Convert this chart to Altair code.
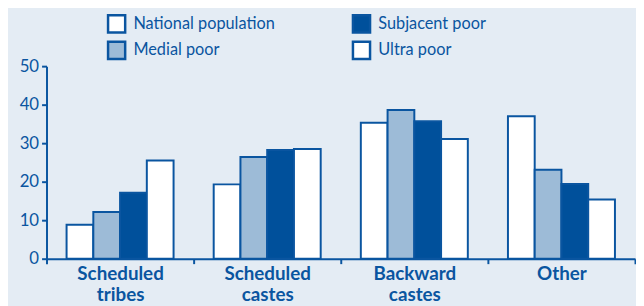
import altair as alt
import pandas as pd

categories = ["Scheduled tribes", "Scheduled castes", "Backward castes", "Other"]
series = ["National population", "Medial poor", "Subjacent poor", "Ultra poor"]
national = [8.8, 19.3, 35.3, 37.0]
medial = [12.1, 26.4, 38.6, 23.1]
subjacent = [17.1, 28.2, 35.7, 19.4]
ultra = [25.5, 28.5, 31.1, 15.4]
y_ticks = [0, 10, 20, 30, 40, 50]

rows = []
for s, vals in zip(series, [national, medial, subjacent, ultra]):
    for c, v in zip(categories, vals):
        rows.append({"category": c, "series": s, "value": v})
df = pd.DataFrame(rows)

BLUE = "#0a55a0"
BG = "#e4ecf4"
legend_order = ["National population", "Subjacent poor", "Medial poor", "Ultra poor"]
legend_fill = ["#ffffff", "#00509b", "#9dbbd7", "#ffffff"]

chart = alt.Chart(df).mark_bar(stroke=BLUE, strokeWidth=2).encode(
    x=alt.X("category:N", sort=categories, title=None,
            scale=alt.Scale(paddingInner=0, paddingOuter=0),
            axis=alt.Axis(labelAngle=0, labelExpr="split(datum.label, ' ')",
                          labelFont="Lato", labelFontSize=19, labelFontWeight="bold",
                          labelColor=BLUE, labelPadding=1, labelLineHeight=21,
                          domainColor=BLUE, domainWidth=2, tickColor=BLUE, tickWidth=2,
                          tickSize=5, tickBand="extent")),
    xOffset=alt.XOffset("series:N", sort=series,
                        scale=alt.Scale(paddingInner=0, paddingOuter=0.75)),
    y=alt.Y("value:Q", title=None,
            scale=alt.Scale(domain=[0, 50], nice=False),
            axis=alt.Axis(values=y_ticks, grid=False, labelFont="Lato", labelFontSize=17,
                          labelColor=BLUE, domainColor=BLUE, domainWidth=2,
                          tickColor=BLUE, tickWidth=2, tickSize=5, labelPadding=3)),
    fill=alt.Fill("series:N", scale=alt.Scale(domain=legend_order, range=legend_fill),
                  legend=alt.Legend(title=None, orient="none", legendX=61, legendY=-53,
                                    columns=2, direction="horizontal",
                                    symbolType="square", symbolSize=300,
                                    symbolStrokeColor=BLUE, symbolStrokeWidth=2.5,
                                    labelFont="Lato", labelFontSize=16.5, labelColor=BLUE,
                                    labelOffset=7, columnPadding=73, rowPadding=-1,
                                    labelLimit=300)),
).properties(
    width=596, height=195,
    background=BG,
    padding={"left": 39, "top": 57, "right": 1, "bottom": 46},
    autosize=alt.AutoSizeParams(type="none"),
).configure_view(stroke=None)

chart.save("out.html", embed_options={"renderer": "svg", "actions": False})
